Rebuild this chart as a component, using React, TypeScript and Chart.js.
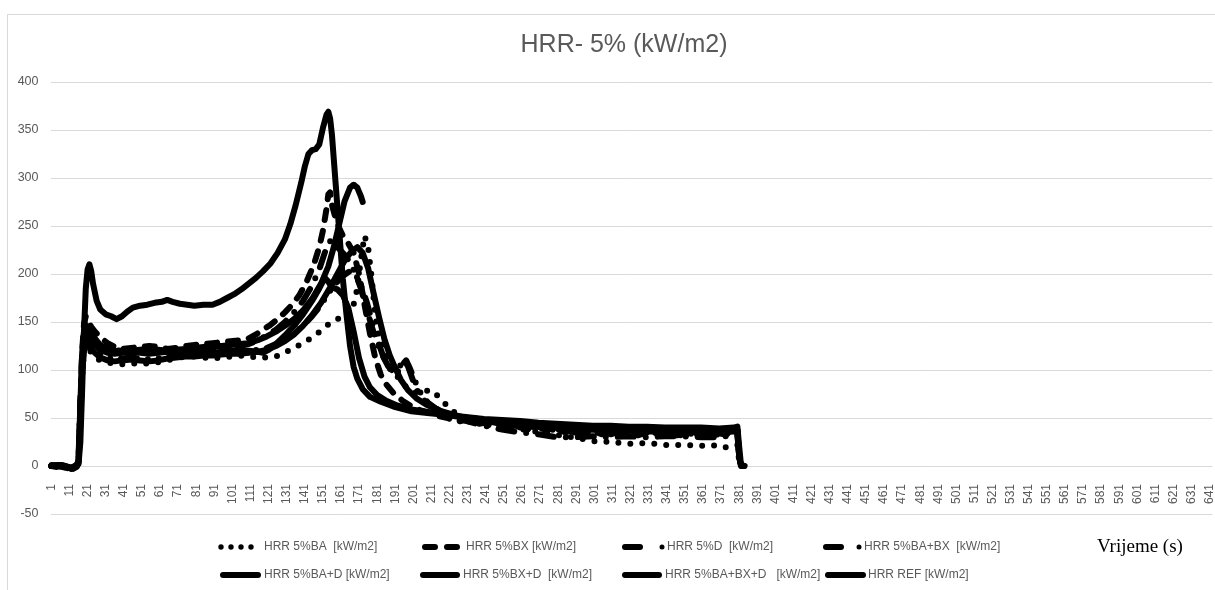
import React, { useEffect, useRef } from 'react';
import { Chart, registerables } from 'chart.js';

Chart.register(...registerables);

// Category axis: time in seconds, 1..642
const CATEGORIES: string[] = Array.from({ length: 642 }, (_, i) => String(i + 1));
const Y_MIN = -50;
const Y_MAX = 400;
const Y_STEP = 50;

const TITLE = 'HRR- 5% (kW/m2)';
const AXIS_NOTE = 'Vrijeme (s)';

const LABEL_BA = 'HRR 5%BA  [kW/m2]';
const LABEL_BX = 'HRR 5%BX [kW/m2]';
const LABEL_D = 'HRR 5%D  [kW/m2]';
const LABEL_BABX = 'HRR 5%BA+BX  [kW/m2]';
const LABEL_BAD = 'HRR 5%BA+D [kW/m2]';
const LABEL_BXD = 'HRR 5%BX+D  [kW/m2]';
const LABEL_BABXD = 'HRR 5%BA+BX+D   [kW/m2]';
const LABEL_REF = 'HRR REF [kW/m2]';

// [time (s), HRR (kW/m2)]
const HRR_BA: [number, number][] = [
  [1, 0], [5, 1], [9, -1], [12, -2], [15, 0], [16, 3], [17, 45], [18, 95], [19, 118], [20, 126], [21, 124], [23, 118],
  [25, 113], [28, 110], [31, 108], [35, 107], [40, 106], [45, 107], [50, 106], [55, 107], [60, 108], [65, 110],
  [70, 112], [75, 114], [80, 114], [85, 113], [90, 112], [95, 113], [100, 114], [105, 115], [110, 114], [115, 113],
  [120, 113], [125, 114], [130, 118], [135, 123], [140, 128], [145, 134], [150, 141], [155, 149], [160, 154],
  [164, 157], [167, 160], [170, 185], [172, 215], [174, 240], [176, 228], [178, 195], [180, 155], [182, 135],
  [185, 122], [188, 108], [191, 96], [195, 86], [199, 79], [203, 76], [207, 78], [211, 79], [215, 72], [218, 66],
  [222, 58], [227, 52], [235, 47], [245, 43], [255, 40], [265, 37], [275, 34], [285, 31], [295, 28], [300, 26],
  [310, 25], [320, 23], [330, 24], [340, 22], [350, 22], [360, 21], [366, 22], [372, 19], [378, 21], [380, 22],
  [381, 5], [382, 0], [383, 0],
];

const HRR_BX: [number, number][] = [
  [1, 0], [4, -1], [8, 1], [11, -2], [13, -3], [15, -1], [16, 5], [17, 60], [18, 120], [19, 148], [20, 156],
  [21, 152], [23, 145], [25, 140], [28, 134], [32, 128], [36, 124], [40, 122], [45, 123], [50, 124], [55, 125],
  [60, 124], [65, 122], [70, 123], [75, 125], [80, 126], [85, 127], [90, 128], [95, 129], [100, 130], [105, 131],
  [110, 133], [114, 137], [118, 142], [122, 147], [126, 153], [130, 160], [134, 168], [138, 178], [142, 192],
  [146, 210], [149, 228], [151, 245], [153, 268], [154, 283], [155, 285], [156, 272], [158, 258], [160, 248],
  [162, 240], [165, 232], [168, 222], [171, 200], [174, 168], [177, 138], [180, 112], [183, 95], [186, 85],
  [190, 76], [195, 68], [200, 62], [205, 58], [210, 55], [215, 52], [220, 50], [225, 46], [230, 48], [235, 43],
  [240, 45], [245, 41], [250, 44], [255, 40], [260, 42], [265, 38], [270, 41], [275, 37], [280, 39], [285, 35],
  [290, 38], [295, 34], [300, 37], [305, 33], [310, 36], [315, 33], [320, 36], [325, 32], [330, 35], [335, 32],
  [340, 35], [345, 31], [350, 34], [355, 31], [360, 35], [365, 31], [370, 34], [375, 32], [378, 34], [380, 35],
  [381, 10], [382, 0], [383, 0],
];

const HRR_D: [number, number][] = [
  [1, 0], [5, 0], [9, -2], [12, -3], [15, 0], [16, 8], [17, 70], [18, 115], [19, 135], [20, 140], [22, 137],
  [24, 133], [27, 128], [31, 124], [35, 121], [40, 120], [45, 118], [50, 117], [55, 118], [60, 119], [65, 120],
  [70, 120], [75, 119], [80, 118], [85, 120], [90, 121], [95, 122], [100, 123], [105, 125], [110, 127], [115, 131],
  [120, 136], [125, 142], [130, 150], [135, 160], [140, 172], [145, 188], [149, 205], [152, 222], [154, 232],
  [156, 236], [158, 230], [160, 226], [163, 220], [166, 212], [169, 200], [172, 185], [175, 165], [178, 145],
  [181, 128], [184, 115], [187, 104], [190, 98], [193, 103], [196, 110], [198, 104], [201, 88], [204, 75],
  [208, 66], [213, 60], [220, 55], [230, 47], [240, 42], [250, 38], [260, 35], [270, 33], [280, 30], [290, 30],
  [300, 31], [310, 30], [320, 31], [330, 30], [340, 31], [350, 31], [360, 30], [370, 30], [378, 32], [380, 33],
  [381, 10], [382, 0], [383, 0],
];

const HRR_BA_BX: [number, number][] = [
  [1, 0], [5, 1], [9, -1], [12, -2], [15, 0], [16, 4], [17, 50], [18, 100], [19, 125], [20, 132], [22, 128],
  [25, 122], [28, 117], [32, 113], [36, 111], [40, 112], [45, 113], [50, 112], [55, 111], [60, 112], [65, 114],
  [70, 116], [75, 117], [80, 118], [85, 118], [90, 117], [95, 118], [100, 119], [105, 119], [110, 120], [115, 121],
  [120, 123], [125, 127], [130, 132], [135, 138], [140, 146], [145, 156], [150, 168], [154, 180], [158, 190],
  [162, 198], [166, 203], [169, 200], [172, 188], [175, 172], [178, 152], [181, 132], [184, 116], [187, 104],
  [190, 96], [193, 99], [195, 106], [197, 110], [199, 102], [202, 88], [205, 76], [209, 66], [214, 59], [220, 54],
  [225, 52], [230, 48], [235, 50], [240, 45], [245, 47], [250, 42], [255, 44], [260, 40], [265, 42], [270, 38],
  [275, 40], [280, 36], [285, 39], [290, 35], [295, 38], [300, 34], [305, 37], [310, 33], [315, 36], [320, 33],
  [325, 36], [330, 32], [335, 35], [340, 32], [345, 35], [350, 31], [355, 34], [360, 32], [365, 35], [370, 32],
  [375, 34], [378, 33], [380, 35], [381, 10], [382, 0], [383, 0],
];

const HRR_BA_D: [number, number][] = [
  [1, 0], [5, 1], [9, 0], [12, -2], [15, 1], [16, 6], [17, 65], [18, 118], [19, 140], [20, 147], [22, 142],
  [25, 133], [28, 126], [32, 122], [36, 120], [40, 119], [45, 120], [50, 121], [55, 122], [60, 121], [65, 120],
  [70, 121], [75, 122], [80, 123], [85, 124], [90, 125], [95, 125], [100, 126], [105, 127], [110, 128], [115, 131],
  [120, 135], [125, 140], [130, 146], [135, 153], [140, 162], [145, 174], [150, 190], [154, 208], [157, 228],
  [160, 252], [163, 276], [166, 290], [168, 293], [170, 290], [172, 281], [173, 275],
];

const HRR_BX_D: [number, number][] = [
  [1, 0], [5, 0], [9, -1], [12, -3], [15, 0], [16, 5], [17, 55], [18, 105], [19, 128], [20, 136], [22, 132],
  [25, 126], [28, 121], [32, 118], [36, 117], [40, 118], [45, 119], [50, 118], [55, 117], [60, 118], [65, 119],
  [70, 118], [75, 117], [80, 118], [85, 119], [90, 118], [95, 119], [100, 120], [105, 120], [110, 120], [115, 119],
  [118, 118], [121, 121], [125, 127], [130, 136], [135, 146], [140, 158], [145, 172], [149, 185], [152, 196],
  [154, 192], [156, 186], [159, 184], [162, 178], [165, 165], [168, 140], [171, 112], [174, 93], [177, 82],
  [181, 74], [186, 68], [192, 63], [200, 59], [210, 56], [220, 53], [230, 50], [240, 47], [250, 45], [260, 43],
  [270, 42], [280, 40], [290, 39], [300, 38], [310, 37], [320, 37], [330, 36], [340, 36], [350, 35], [360, 36],
  [370, 35], [378, 36], [380, 37], [381, 10], [382, 0], [383, 0],
];

const HRR_BA_BX_D: [number, number][] = [
  [1, 0], [5, 1], [9, -1], [12, -2], [15, 0], [16, 4], [17, 48], [18, 98], [19, 120], [20, 128], [22, 124],
  [25, 118], [28, 113], [32, 110], [36, 109], [40, 110], [45, 111], [50, 110], [55, 109], [60, 110], [65, 112],
  [70, 113], [75, 114], [80, 114], [85, 115], [90, 115], [95, 116], [100, 117], [105, 117], [110, 118], [115, 119],
  [120, 121], [125, 125], [130, 130], [135, 137], [140, 146], [145, 157], [150, 170], [155, 186], [159, 200],
  [163, 214], [167, 224], [170, 228], [173, 222], [176, 206], [179, 180], [182, 155], [185, 132], [188, 115],
  [191, 102], [194, 90], [198, 79], [203, 70], [208, 64], [215, 58], [222, 54], [230, 50], [240, 47], [250, 44],
  [260, 43], [270, 41], [280, 40], [290, 39], [300, 38], [310, 38], [320, 37], [330, 37], [340, 36], [350, 36],
  [360, 36], [370, 35], [378, 37], [380, 38], [381, 10], [382, 0], [383, 0],
];

const HRR_REF: [number, number][] = [
  [1, 1], [4, 0], [7, 1], [10, -1], [12, -2], [14, 0], [16, 2], [17, 25], [18, 80], [19, 140], [20, 185], [21, 205],
  [22, 210], [23, 203], [24, 190], [26, 172], [28, 163], [31, 158], [34, 156], [37, 153], [40, 156], [43, 161],
  [46, 165], [50, 167], [54, 168], [58, 170], [62, 171], [65, 173], [68, 171], [72, 169], [76, 168], [80, 167],
  [85, 168], [90, 168], [94, 171], [98, 175], [102, 179], [106, 184], [110, 190], [114, 196], [118, 203], [122, 211],
  [126, 222], [130, 236], [133, 252], [136, 272], [139, 295], [141, 312], [143, 325], [145, 329], [147, 330],
  [149, 335], [151, 352], [153, 366], [154, 369], [155, 362], [156, 345], [158, 295], [160, 245], [162, 195],
  [164, 158], [166, 125], [168, 103], [170, 91], [173, 80], [177, 72], [183, 67], [190, 62], [200, 57], [210, 55],
  [220, 53], [230, 51], [240, 49], [250, 48], [260, 47], [270, 45], [280, 44], [290, 43], [300, 42], [310, 42],
  [320, 41], [330, 41], [340, 40], [350, 40], [360, 40], [370, 39], [378, 40], [380, 41], [381, 20], [382, 1],
  [384, 0],
];

const FONT = '"Liberation Sans", Arial, sans-serif';
const GRAY = '#595959';

type LegendKind = 'dots' | 'dash2' | 'dashdot' | 'solid';

const SERIES: { label: string; data: [number, number][]; dash: number[]; kind: LegendKind }[] = [
  { label: LABEL_BA, data: HRR_BA, dash: [0, 12], kind: 'dots' },
  { label: LABEL_BX, data: HRR_BX, dash: [10, 11], kind: 'dash2' },
  { label: LABEL_D, data: HRR_D, dash: [16, 12, 0, 12], kind: 'dashdot' },
  { label: LABEL_BABX, data: HRR_BA_BX, dash: [16, 11, 0, 11, 0, 11], kind: 'dashdot' },
  { label: LABEL_BAD, data: HRR_BA_D, dash: [], kind: 'solid' },
  { label: LABEL_BXD, data: HRR_BX_D, dash: [], kind: 'solid' },
  { label: LABEL_BABXD, data: HRR_BA_BX_D, dash: [], kind: 'solid' },
  { label: LABEL_REF, data: HRR_REF, dash: [], kind: 'solid' },
];

// legend layout: [symbol start x, symbol end x, text x, row]
const LEGEND_POS: [number, number, number, number][] = [
  [221, 252, 264, 0],
  [422, 460, 466, 0],
  [622, 662, 667, 0],
  [823, 859, 864, 0],
  [220, 261, 264, 1],
  [420, 460, 463, 1],
  [622, 662, 665, 1],
  [825, 866, 868, 1],
];
const LEGEND_ROW_Y = [547, 575];

export default function App() {
  const ref = useRef<HTMLCanvasElement>(null);

  useEffect(() => {
    const canvas = ref.current;
    if (!canvas) return;

    const decor = {
      id: 'decor',
      beforeDraw(chart: any) {
        const ctx = chart.ctx as CanvasRenderingContext2D;
        ctx.save();
        ctx.fillStyle = '#ffffff';
        ctx.fillRect(0, 0, chart.width, chart.height);
        ctx.strokeStyle = '#d9d9d9';
        ctx.lineWidth = 1;
        ctx.strokeRect(7.5, 14.5, 1400, 800);
        ctx.restore();
      },
      afterDraw(chart: any) {
        const ctx = chart.ctx as CanvasRenderingContext2D;
        ctx.save();
        // title
        ctx.fillStyle = GRAY;
        ctx.font = `25px ${FONT}`;
        ctx.textAlign = 'center';
        ctx.textBaseline = 'middle';
        ctx.fillText(TITLE, 624, 45);

        // legend
        ctx.textAlign = 'left';
        ctx.font = `12px ${FONT}`;
        SERIES.forEach((s, i) => {
          const [x0, x1, tx, row] = LEGEND_POS[i];
          const y = LEGEND_ROW_Y[row];
          ctx.strokeStyle = '#000';
          ctx.fillStyle = '#000';
          ctx.lineWidth = 6;
          ctx.lineCap = 'round';
          ctx.setLineDash([]);
          if (s.kind === 'dots') {
            for (let x = x0; x <= x1; x += 10) {
              ctx.beginPath();
              ctx.arc(x, y, 2.7, 0, Math.PI * 2);
              ctx.fill();
            }
          } else if (s.kind === 'dash2') {
            ctx.beginPath();
            ctx.moveTo(x0 + 3, y);
            ctx.lineTo(x0 + 13, y);
            ctx.moveTo(x0 + 25, y);
            ctx.lineTo(x0 + 35, y);
            ctx.stroke();
          } else if (s.kind === 'dashdot') {
            ctx.beginPath();
            ctx.moveTo(x0 + 3, y);
            ctx.lineTo(x0 + 18, y);
            ctx.stroke();
            ctx.beginPath();
            ctx.arc(x1, y, 2.5, 0, Math.PI * 2);
            ctx.fill();
          } else {
            ctx.beginPath();
            ctx.moveTo(x0 + 3, y);
            ctx.lineTo(x1 - 3, y);
            ctx.stroke();
          }
          ctx.fillStyle = GRAY;
          ctx.fillText(s.label, tx, y);
        });

        // axis note
        ctx.fillStyle = '#000';
        ctx.font = '19px "Liberation Serif", "Times New Roman", serif';
        ctx.fillText(AXIS_NOTE, 1097, 547);
        ctx.restore();
      },
    };

    const chart = new Chart(canvas, {
      type: 'line',
      data: {
        labels: CATEGORIES,
        datasets: SERIES.map((s) => ({
          label: s.label,
          data: s.data.map(([t, v]) => ({ x: String(t), y: v })),
          borderColor: '#000000',
          backgroundColor: '#000000',
          borderWidth: 6,
          borderDash: s.dash,
          borderCapStyle: 'round',
          borderJoinStyle: 'round',
          pointRadius: 0,
          pointHoverRadius: 0,
          fill: false,
          tension: 0,
        })) as any,
      },
      options: {
        responsive: false,
        animation: false,
        devicePixelRatio: 1,
        events: [],
        layout: { padding: { left: 0, right: 2.5, top: 82, bottom: 76 } },
        plugins: {
          legend: { display: false },
          title: { display: false },
          tooltip: { enabled: false },
        },
        scales: {
          x: {
            type: 'category',
            position: { y: 0 } as any,
            offset: true,
            grid: { display: false },
            border: { display: false },
            ticks: {
              autoSkip: false,
              minRotation: 90,
              maxRotation: 90,
              padding: 10,
              color: GRAY,
              font: { family: FONT, size: 12 },
              callback: (_v: any, i: number) => (i % 10 === 0 ? CATEGORIES[i] : ''),
            },
            afterFit: (scale: any) => {
              scale.paddingLeft = 0;
              scale.paddingRight = 0;
            },
          },
          y: {
            min: Y_MIN,
            max: Y_MAX,
            ticks: { stepSize: Y_STEP, color: GRAY, font: { family: FONT, size: 12.5 }, padding: 12 },
            grid: { color: '#d9d9d9', drawTicks: false, lineWidth: 1 },
            border: { display: false },
            afterFit: (scale: any) => {
              scale.width = 50.5;
            },
          },
        },
      } as any,
      plugins: [decor],
    });

    return () => chart.destroy();
  }, []);

  return (
    <div style={{ position: 'absolute', left: 0, top: 0, width: 1215, height: 590 }}>
      <canvas ref={ref} width={1215} height={590} style={{ display: 'block' }} />
    </div>
  );
}
